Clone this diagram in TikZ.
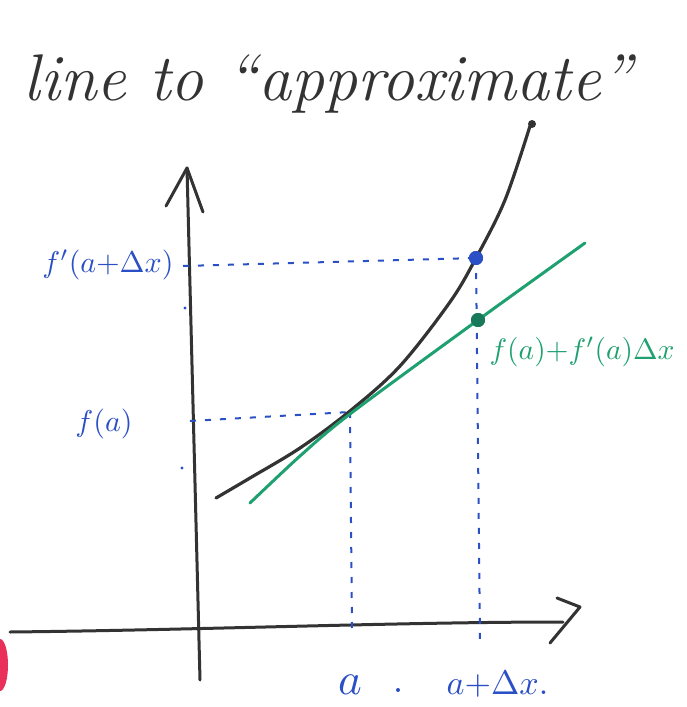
\documentclass[tikz,border=0pt]{standalone}
\usetikzlibrary{calc}
\definecolor{pen}{HTML}{2B4FC4}
\definecolor{grn}{HTML}{1FA070}
\definecolor{dgrn}{HTML}{17785A}
\definecolor{ink}{HTML}{333333}
\definecolor{blob}{HTML}{E8305A}
\tikzset{
  axis/.style={ink, line width=3pt, line cap=round, line join=round},
  curve/.style={ink, line width=3.2pt, line cap=round},
  tangent/.style={grn, line width=3pt, line cap=round},
  guide/.style={pen, line width=2pt, dash pattern=on 6pt off 9pt},
  lab/.style={pen, inner sep=0pt},
  dotmark/.style={circle, inner sep=0pt, minimum size=14pt},
}
\begin{document}
\begin{tikzpicture}[x=1pt,y=-1pt]
\useasboundingbox (0,0) rectangle (686,707);
\clip (0,0) rectangle (686,707);
% title
\node[ink, anchor=base, inner sep=0pt] (title) at (328,100)
  {\fontsize{66}{72}\selectfont\itshape line to ``approximate''};
% red blob at left edge
\fill[blob] (0,665) ellipse (8 and 26);
% axes
\coordinate (ybot) at (200,680);
\coordinate (ytip) at (187,168);
\coordinate (xl) at (10,632);
\coordinate (xr) at (563,622);
\draw[axis] (ybot) -- (ytip);
\draw[axis] (166,206) -- (ytip) -- (203,212);
\draw[axis] (xl) .. controls (200,630) and (400,622) .. (xr);
\draw[axis] (557,598) -- (580,607) -- (550,643);
% points
\coordinate (T) at (350,412);
\node[dotmark, fill=pen] (B) at (476,258) {};
\node[dotmark, fill=dgrn] (G) at (478,320) {};
% guides
\coordinate (h1) at (183,266);
\coordinate (h2) at (190,421);
\coordinate (v1) at (352,632);
\coordinate (v2) at (480,640);
\draw[guide] (h1) -- (B.center);
\draw[guide] (h2) -- (T);
\draw[guide] (T) -- (v1);
\draw[guide] (B.center) -- (v2);
% curve
\draw[curve] plot[smooth, tension=0.55] coordinates {(216,498) (250,478) (300,448) (350,411) (400,366) (450,302) (476,258) (505,200) (530,126)};
\fill[ink] (532,124) circle (4);
% tangent line
\draw[tangent] plot[smooth, tension=0.5] coordinates {(250,503) (300,456) (350,414) (478,320) (585,243)};
\node[dotmark, fill=dgrn] at (G) {};
\node[dotmark, fill=pen] at (B) {};
% tiny marks
\fill[pen] (185,308) circle (1.6);
\fill[pen] (182,468) circle (1.6);
% labels
\node[lab, scale=3] (lfb) at (108,265) {$f'(a{+}\Delta x)$};
\node[lab, scale=3] (lfa) at (104,424) {$f(a)$};
\node[lab, anchor=base, scale=4.5] (la) at (350,694) {$a$};
\fill[pen] (398,690) circle (2);
\node[lab, anchor=base west, scale=3.4] (lab2) at (446,694) {$a{+}\Delta x.$};
\node[grn, inner sep=0pt, anchor=west, scale=2.95] (lg) at (489,352) {$f(a){+}f'(a)\Delta x$};
\end{tikzpicture}
\end{document}
